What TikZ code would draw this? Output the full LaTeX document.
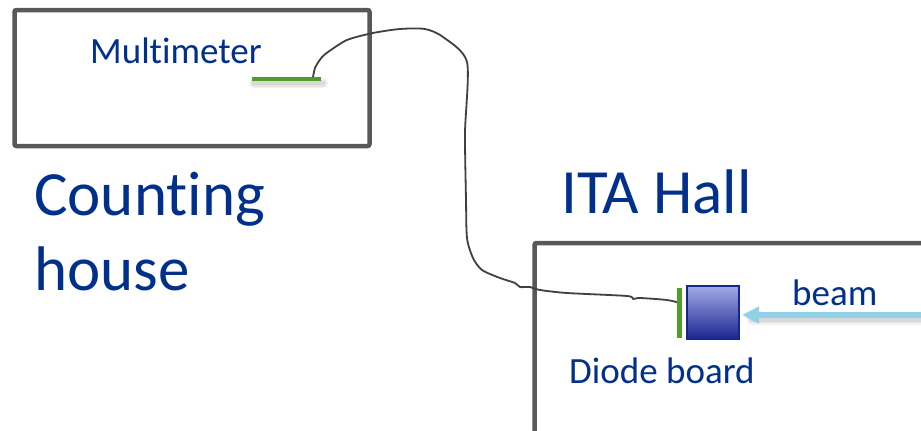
\documentclass[tikz,border=0pt]{standalone}
\usepackage{fontspec}
\setmainfont[Ligatures=NoCommon]{Carlito}
\usetikzlibrary{arrows.meta}
\definecolor{txtblue}{RGB}{0,48,140}
\definecolor{framegray}{RGB}{88,88,88}
\definecolor{wiregray}{RGB}{64,64,64}
\definecolor{leadgreen}{RGB}{82,156,40}
\definecolor{beamblue}{RGB}{146,208,232}
\definecolor{diodetop}{RGB}{162,170,230}
\definecolor{diodebot}{RGB}{28,38,145}
\definecolor{diodeedge}{RGB}{20,40,140}
\tikzset{
  frame/.style={draw=framegray, line width=4.5pt, rounded corners=2pt, inner sep=0pt},
  bigtxt/.style={text=txtblue, font=\fontsize{63}{70}\selectfont, inner sep=0pt, anchor=base west},
  smalltxt/.style={text=txtblue, font=\fontsize{37}{42}\selectfont, inner sep=0pt, anchor=base west},
  lead/.style={draw=leadgreen, line width=4.5pt},
  softshadow/.style={draw=black, opacity=0.05, line cap=round},
  wire/.style={draw=wiregray, line width=1.8pt, line join=round},
  beamline/.style={draw=beamblue, line width=5.5pt, -{Triangle[length=17pt,width=16pt]}},
  diodebox/.style={draw=diodeedge, line width=1.6pt, top color=diodetop, bottom color=diodebot,
    minimum width=52pt, minimum height=53pt, inner sep=0pt}
}
\begin{document}
\begin{tikzpicture}[x=1pt,y=-1pt]
\useasboundingbox (0,0) rectangle (921,431);
\fill[white] (0,0) rectangle (921,431);

% rooms
\node[frame, minimum width=355pt, minimum height=136pt] (counting) at (192,78) {};
\node[frame, minimum width=500pt, minimum height=300pt] (hall) at (784.5,393) {};

% labels
\node[bigtxt] (lblcount) at (34,215) {Counting};
\node[bigtxt] (lblhouse) at (34,290) {house};
\node[bigtxt] (lblhall) at (561,213) {ITA Hall};
\node[smalltxt] (lblmeter) at (90,63) {Multimeter};
\node[smalltxt] (lbldiode) at (569,383) {Diode board};
\node[smalltxt] (lblbeam) at (792,305) {beam};

% multimeter lead with a soft drop shadow
\coordinate (leadL) at (252,79);
\coordinate (leadR) at (321,79);
\foreach \w in {10,7,4}
  \draw[softshadow, line width=\w pt] ([shift={(2,4)}]leadL) -- ([shift={(2,4)}]leadR);
\draw[lead] (leadL) -- (leadR);

% diode board
\node[diodebox] (diode) at (713,312.5) {};
\coordinate (barT) at (679,288);
\coordinate (barB) at (679,338);

% cable from the multimeter to the diode board
\coordinate (cableA) at (313,77);
\coordinate (cableB) at (680,303);
\draw[wire] plot[smooth, tension=0.45] coordinates {
  (cableA) (315,68) (319,61) (322,57) (328,52) (347,40) (373,33) (400,29) (425,29)
  (443,37) (467,62) (465,133) (466,200) (467,238) (473,258) (482,270) (500,278)
  (515,283) (520,287) (530,287) (540,290) (567,293) (627,296) (633,299)
  (640,298) (667,300) (cableB)};
\draw[lead, line width=5pt] (barT) -- (barB);

% beam with a soft drop shadow
\coordinate (beamsrc) at (930,315);
\coordinate (beamtip) at (742,315);
\foreach \w in {11,8,5}
  \draw[softshadow, line width=\w pt] (930,319) -- (752,319);
\draw[beamline] (beamsrc) -- (beamtip);
\end{tikzpicture}
\end{document}
